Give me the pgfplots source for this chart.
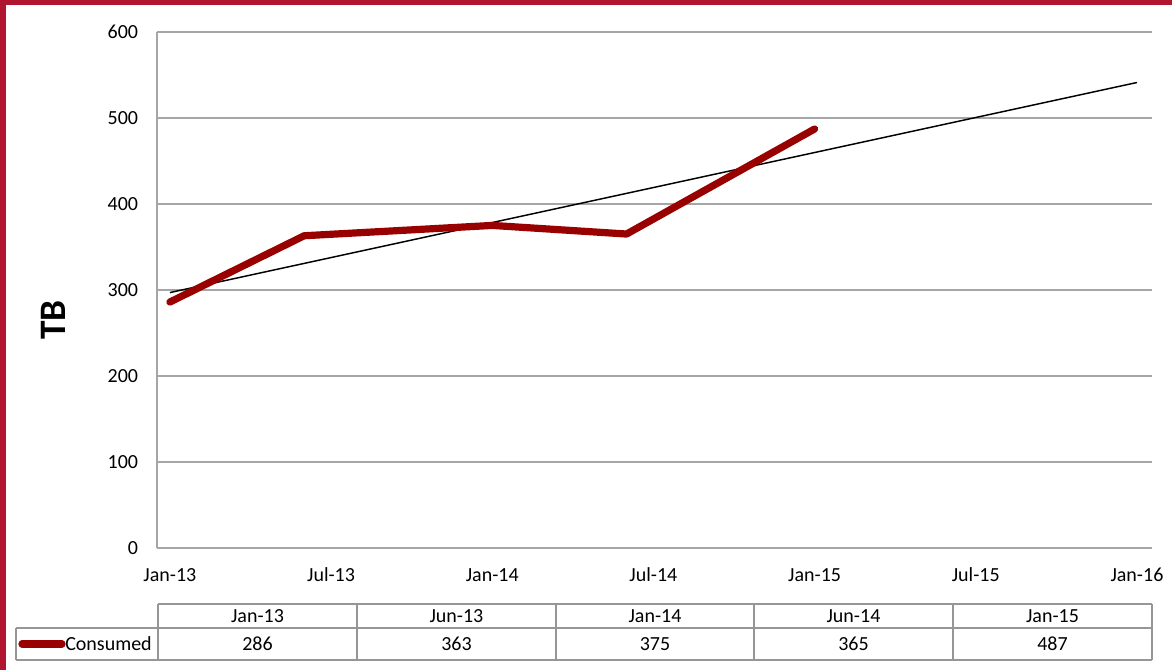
\documentclass[border=0pt]{standalone}
\usepackage{pgfplots}
\pgfplotsset{compat=1.18}
\usepackage{fontspec}
\setmainfont{Carlito}

\definecolor{frame}{RGB}{176,22,48}
\definecolor{consumed}{RGB}{153,0,0}
\definecolor{gridgray}{RGB}{166,166,166}
\definecolor{tablegray}{RGB}{150,150,150}

\newcommand{\lbl}{\fontsize{15}{17}\selectfont}

\begin{document}
\begin{tikzpicture}[x=0.75pt, y=0.75pt,
    cell/.style={font=\lbl, inner sep=0pt, text height=9.6pt, text depth=0pt}]
  % page: 1172 x 670 px, origin bottom left
  \useasboundingbox (0,0) rectangle (1172,670);
  \fill[white] (0,0) rectangle (1172,670);
  \fill[frame] (0,665) rectangle (1172,670);
  \fill[frame] (0,0) rectangle (6,670);

  \begin{axis}[
    at={(117.75pt,91.275pt)}, anchor=south west,
    scale only axis,
    width=746.25pt, height=387.45pt,
    xmin=-0.48, xmax=36.56,
    ymin=0, ymax=600,
    xtick={0,6,...,36},
    xticklabels={Jan-13,Jul-13,Jan-14,Jul-14,Jan-15,Jul-15,Jan-16},
    ytick={0,100,...,600},
    axis lines=left,
    axis line style={-, draw=gridgray, line width=1.5pt},
    ymajorgrids,
    grid style={draw=gridgray, line width=1.3pt},
    major tick length=0pt,
    tick label style={font=\lbl, inner sep=0pt},
    /pgf/number format/assume math mode=true,
    yticklabel style={anchor=east, xshift=-14pt},
    xticklabel style={anchor=north, text height=9.6pt, text depth=0pt, yshift=-14.8pt},
    ylabel={\textbf{TB}},
    ylabel style={font=\fontsize{28}{30}\selectfont, at={(axis description cs:-0.1045,0.4419)}, anchor=center},
    clip=false,
  ]
    % linear trend
    \addplot[black, line width=1.1pt, no markers] coordinates {(0,297) (36,541)};
    % consumed (months after Jan-13)
    \addplot[consumed, line width=5.4pt, line cap=round, line join=round, no markers]
      coordinates {(0,286) (5,363) (12,375) (17,365) (24,487)};
  \end{axis}

  % data table
  \begin{scope}[tablegray, line width=1.1pt]
    \draw (158,66) -- (1152,66);
    \draw (16,42) -- (1152,42);
    \draw (16,10) -- (1152,10);
    \draw (16,42) -- (16,10);
    \foreach \x in {158,357,556,754,953,1152} \draw (\x,66) -- (\x,10);
  \end{scope}
  \foreach \x/\d/\v in {257.5/Jan-13/286, 456.5/Jun-13/363, 655/Jan-14/375, 853.5/Jun-14/365, 1052.5/Jan-15/487} {
    \node[cell] at (\x,54) {\d};
    \node[cell] at (\x,26) {\v};
  }
  \draw[consumed, line width=5.4pt, line cap=round] (22,26) -- (62,26);
  \node[cell, anchor=west] at (65,26) {Consumed};
\end{tikzpicture}
\end{document}
